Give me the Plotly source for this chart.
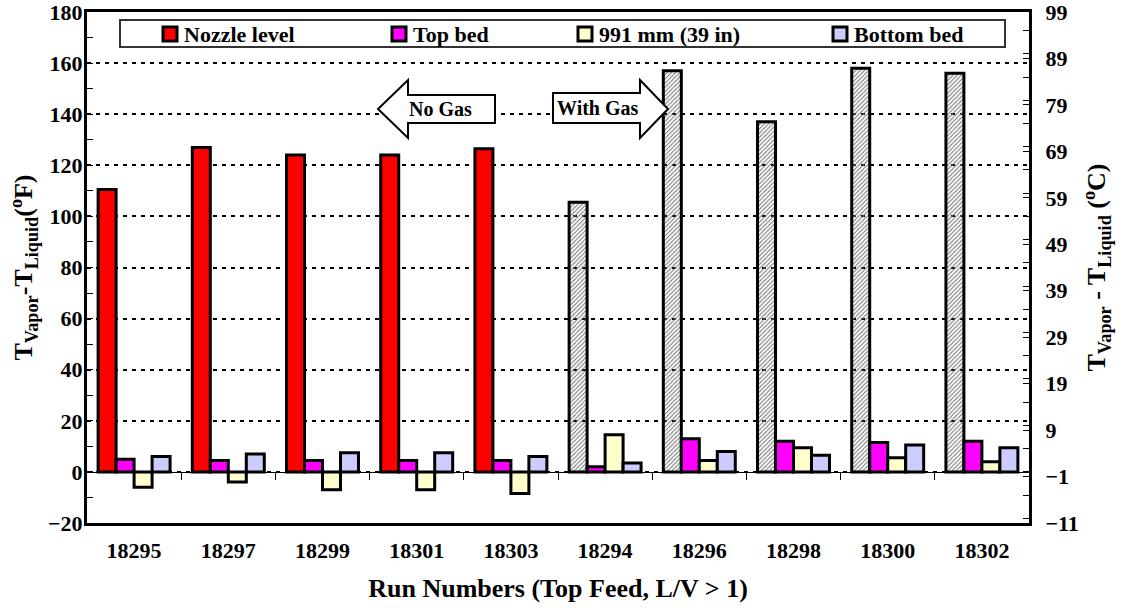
import plotly.graph_objects as go

# ---- data ----
categories = ['18295', '18297', '18299', '18301', '18303',
              '18294', '18296', '18298', '18300', '18302']
nozzle_level = [110.5, 127, 124, 124, 126.5, 105.5, 157, 137, 158, 156]
top_bed = [5, 4.5, 4.5, 4.5, 4.5, 2, 13, 12, 11.5, 12]
mm_991 = [-6, -4, -7, -7, -8.5, 14.5, 4.5, 9.5, 5.5, 4]
bottom_bed = [6, 7, 7.5, 7.5, 6, 3.5, 8, 6.5, 10.5, 9.5]
with_gas = [False, False, False, False, False, True, True, True, True, True]

series_names = ['Nozzle level', 'Top bed', '991 mm (39 in)', 'Bottom bed']
series_colors = ['#FF0000', '#FF00FF', '#FFFFCC', '#CCCCFF']

FONT = "Liberation Serif, Times New Roman, serif"
W, H = 1122, 610
L, R, T, B = 87, 1029, 12, 523  # plot area in px


def px(x, y):
    return (x - L) / (R - L), (B - y) / (B - T)


fig = go.Figure()

noz_colors = ['#777777' if g else series_colors[0] for g in with_gas]
noz_shapes = ['/' if g else '' for g in with_gas]

fig.add_trace(go.Bar(
    x=categories, y=nozzle_level, name=series_names[0], showlegend=False,
    marker=dict(color=noz_colors, line=dict(color='black', width=3),
                pattern=dict(shape=noz_shapes, fillmode='replace', bgcolor='#ebebeb',
                             size=3, solidity=0.35)),
))
for name, vals, col in zip(series_names[1:], [top_bed, mm_991, bottom_bed], series_colors[1:]):
    fig.add_trace(go.Bar(x=categories, y=vals, name=name, showlegend=False,
                         marker=dict(color=col, line=dict(color='black', width=3))))

# invisible helpers for secondary axes
fig.add_trace(go.Scatter(x=[0], y=[0], xaxis='x2', yaxis='y', mode='markers',
                         marker=dict(opacity=0), showlegend=False, hoverinfo='skip'))
fig.add_trace(go.Scatter(x=[categories[0]], y=[0], yaxis='y2', mode='markers',
                         marker=dict(opacity=0), showlegend=False, hoverinfo='skip'))

tickfont = dict(family=FONT, size=22, color='black', weight='bold')
titlefont = dict(family=FONT, size=26, color='black', weight='bold')

fig.update_layout(
    width=W, height=H,
    margin=dict(l=L, r=W - R, t=T, b=H - B, autoexpand=False),
    paper_bgcolor='white', plot_bgcolor='white',
    barmode='group', bargap=0.236, bargroupgap=0,
    font=dict(family=FONT, color='black'),
    showlegend=False,
    xaxis=dict(type='category', categoryarray=categories, range=[-0.5, 9.5],
               automargin=False,
               showline=True, linecolor='black', linewidth=3, mirror=True,
               ticks='', tickfont=tickfont, ticklabelstandoff=6,
               title=dict(text='Run Numbers (Top Feed, L/V > 1)', font=titlefont, standoff=17),
               showgrid=False),
    xaxis2=dict(overlaying='x', anchor='free', position=0.1, range=[-0.5, 9.5],
                automargin=False,
                tickvals=[i + 0.5 for i in range(9)], ticks='outside', ticklen=7,
                tickwidth=1, tickcolor='black', showticklabels=False, showgrid=False,
                showline=True, linecolor='black', linewidth=1, zeroline=False),
    yaxis=dict(range=[-20, 180], dtick=20, tick0=0, automargin=False,
               showline=True, linecolor='black', linewidth=3,
               ticks='inside', ticklen=6, tickwidth=1, tickcolor='black',
               minor=dict(dtick=10, ticks='inside', ticklen=6, tickcolor='black', showgrid=False),
               showgrid=True, gridcolor='black', gridwidth=2, griddash='4px,5px',
               zeroline=False, tickfont=tickfont, ticklabelstandoff=-3,
               ticklabeloverflow='allow',
               title=dict(text='T<sub>Vapor</sub>-T<sub>Liquid</sub>(<sup>o</sup>F)',
                          font=titlefont, standoff=8)),
    yaxis2=dict(overlaying='y', side='right', range=[-11, 99], dtick=10, tick0=-1,
                automargin=False,
                showline=True, linecolor='black', linewidth=3,
                ticks='inside', ticklen=6, tickwidth=1, tickcolor='black',
                minor=dict(dtick=5, ticks='inside', ticklen=6, tickcolor='black', showgrid=False),
                showgrid=False, zeroline=False, tickfont=tickfont, ticklabelstandoff=9,
                ticklabeloverflow='allow',
                title=dict(text='T<sub>Vapor</sub> - T<sub>Liquid</sub> (<sup>o</sup>C)',
                           font=titlefont, standoff=10)),
)


def path(points):
    s = ''
    for i, (x, y) in enumerate(points):
        fx, fy = px(x, y)
        s += ('M' if i == 0 else 'L') + f'{fx:.5f},{fy:.5f} '
    return s + 'Z'


# "No Gas" / "With Gas" block arrows
no_gas = [(378, 109), (408, 80), (408, 95), (495, 95), (495, 123), (408, 123), (408, 138)]
with_gas_arrow = [(553, 93), (640, 93), (640, 80), (668, 109), (640, 138), (640, 123), (553, 123)]
for pts in (no_gas, with_gas_arrow):
    fig.add_shape(type='path', path=path(pts), xref='paper', yref='paper',
                  fillcolor='white', line=dict(color='black', width=2), layer='above')

for text, (x, y) in (('No Gas', (440, 109)), ('With Gas', (598, 108))):
    fx, fy = px(x, y)
    fig.add_annotation(text=text, x=fx, y=fy, xref='paper', yref='paper', showarrow=False,
                       xanchor='center', yanchor='middle',
                       font=dict(family=FONT, size=20, color='black', weight='bold'))

# legend box (drawn as shapes + text so it matches the compact original)
x0, y0 = px(120, 20)
x1, y1 = px(1005, 47)
fig.add_shape(type='rect', xref='paper', yref='paper', x0=x0, y0=y0, x1=x1, y1=y1,
              fillcolor='white', line=dict(color='#333333', width=2), layer='above')
swatch_x = [170, 399, 585, 840]
for name, col, sx in zip(series_names, series_colors, swatch_x):
    a0, b0 = px(sx - 7, 27)
    a1, b1 = px(sx + 7, 41)
    fig.add_shape(type='rect', xref='paper', yref='paper', x0=a0, y0=b0, x1=a1, y1=b1,
                  fillcolor=col, line=dict(color='black', width=3), layer='above')
    tx, ty = px(sx + 12, 34)
    fig.add_annotation(text=name, x=tx, y=ty, xref='paper', yref='paper', showarrow=False,
                       xanchor='left', yanchor='middle',
                       font=dict(family=FONT, size=22, color='black', weight='bold'))

fig.write_html('out.html', config={'displayModeBar': False},
               post_script="document.body.style.margin='0';document.body.style.overflow='hidden';")
